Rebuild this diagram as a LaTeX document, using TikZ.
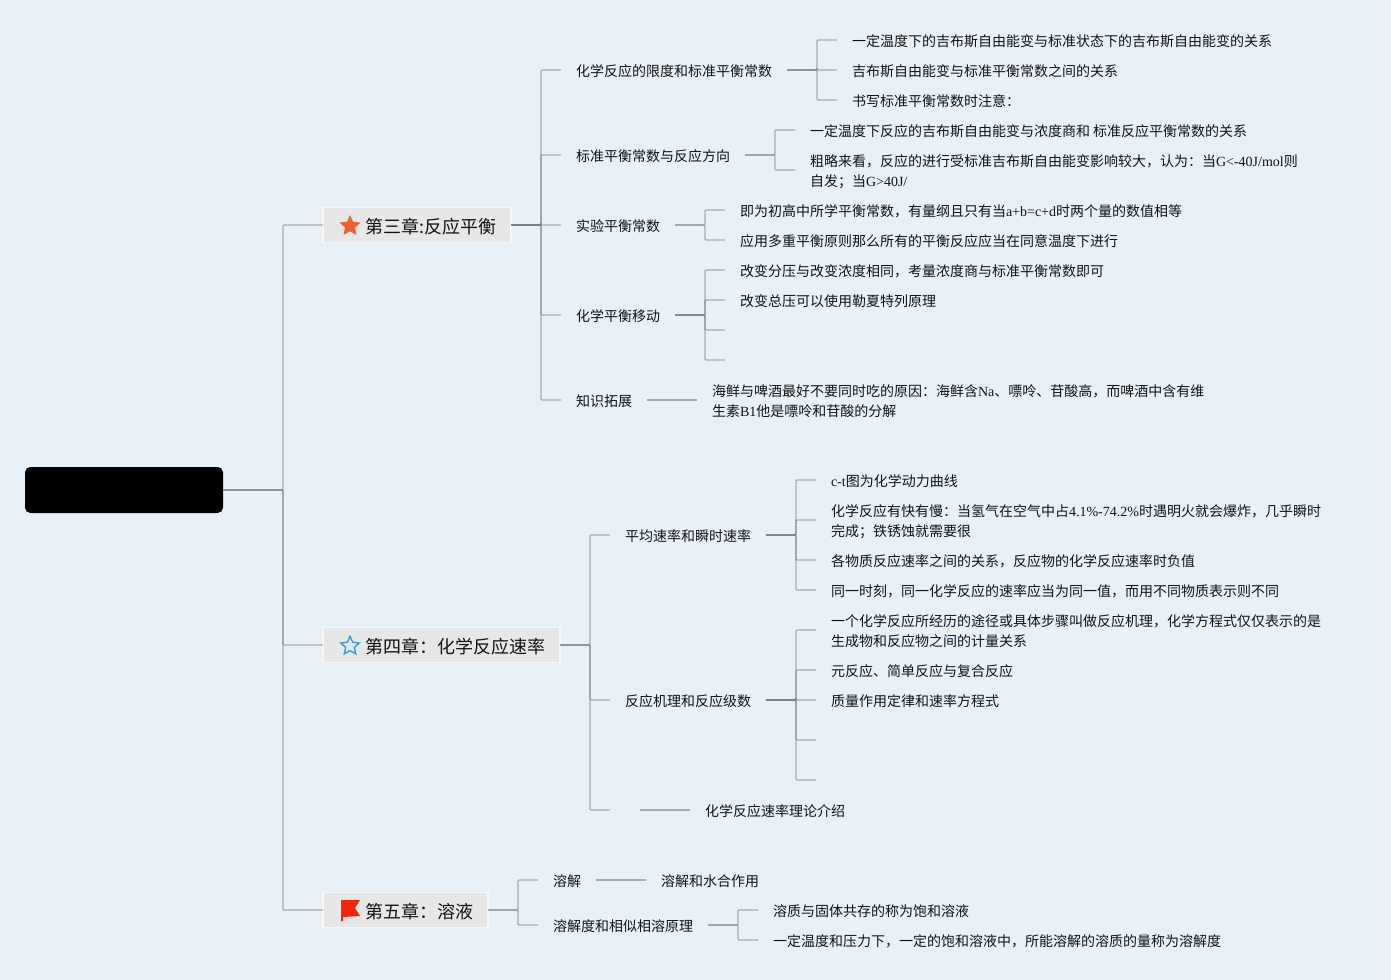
\documentclass[tikz,border=0pt]{standalone}
\usepackage{fontspec}
\setmainfont{Noto Sans CJK SC}
\newfontfamily\latinfont{Liberation Serif}
\newcommand{\lat}[1]{{\latinfont #1}}
\usepackage{xcolor}
\usepackage{tikz}
\usetikzlibrary{shapes.geometric}
\definecolor{pagebg}{HTML}{E9F1F8}
\definecolor{boxgray}{HTML}{E7E7E7}
\definecolor{linkgray}{HTML}{6F7673}
\definecolor{starorange}{HTML}{E8632F}
\definecolor{starblue}{HTML}{3A9FD9}
\definecolor{flagred}{HTML}{F0260F}
\tikzset{
  topic/.style={anchor=west, inner xsep=11.25pt, inner ysep=0pt, outer sep=0pt, align=left, text=black!93,
    font=\fontsize{10.5pt}{15pt}\selectfont, text height=10.2pt, text depth=0pt},
  twolines/.style={text height=25.2pt, text depth=0pt},
  chapter/.style={anchor=west, fill=boxgray, draw=white!60!pagebg, line width=1.1pt, inner xsep=11.25pt,
    inner ysep=0pt, outer sep=0pt, minimum height=26pt, text=black!93, font=\fontsize{13.5pt}{16pt}\selectfont,
    text height=12.5pt, text depth=0pt},
  link/.style={draw=linkgray, opacity=0.55, line width=1.1pt, rounded corners=0.8pt},
  staricon/.style={star, star points=5, star point ratio=2.1, minimum size=16.5pt, inner sep=0pt}
}
\begin{document}
\begin{tikzpicture}[x=0.75pt, y=-0.75pt]
  \fill[pagebg] (0,0) rectangle (1391,980);
  \useasboundingbox (0,0) rectangle (1391,980);

  \node[fill=black, rounded corners=4pt, minimum width=148.5pt, minimum height=34.5pt, inner sep=0pt, outer sep=0pt, anchor=west] (root) at (25,490) {};

  % chapters
  \node[chapter] (chA) at (323,225) {\hspace*{20.25pt}第三章:反应平衡};
  \node[chapter] (chB) at (323,645) {\hspace*{20.25pt}第四章：化学反应速率};
  \node[chapter] (chC) at (323,910) {\hspace*{20.25pt}第五章：溶液};

  \node[staricon, fill=starorange] (iconA) at (350,226) {};
  \node[staricon, draw=starblue, line width=1.1pt, minimum size=14.5pt] (iconB) at (350,646) {};
  \fill[flagred] (341,900) -- (360,900) -- (355,908) -- (360,916) -- (343,917) -- (343,921) -- (341,921) -- cycle;

  % chapter 3
  \node[topic] (aA) at (561,70) {化学反应的限度和标准平衡常数};
  \node[topic] (aB) at (561,155) {标准平衡常数与反应方向};
  \node[topic] (aC) at (561,225) {实验平衡常数};
  \node[topic] (aD) at (561,315) {化学平衡移动};
  \node[topic] (aE) at (561,400) {知识拓展};

  \node[topic] (aAa) at (837,40) {一定温度下的吉布斯自由能变与标准状态下的吉布斯自由能变的关系};
  \node[topic] (aAb) at (837,70) {吉布斯自由能变与标准平衡常数之间的关系};
  \node[topic] (aAc) at (837,100) {书写标准平衡常数时注意：};
  \node[topic] (aBa) at (795,130) {一定温度下反应的吉布斯自由能变与浓度商和 标准反应平衡常数的关系};
  \node[topic, twolines] (aBb) at (795,170) {粗略来看，反应的进行受标准吉布斯自由能变影响较大，认为：当\lat{G<-40J/mol}则\\自发；当\lat{G>40J/}};
  \node[topic] (aCa) at (725,210) {即为初高中所学平衡常数，有量纲且只有当\lat{a+b=c+d}时两个量的数值相等};
  \node[topic] (aCb) at (725,240) {应用多重平衡原则那么所有的平衡反应应当在同意温度下进行};
  \node[topic] (aDa) at (725,270) {改变分压与改变浓度相同，考量浓度商与标准平衡常数即可};
  \node[topic] (aDb) at (725,300) {改变总压可以使用勒夏特列原理};
  \coordinate (aDc) at (725,330);
  \coordinate (aDd) at (725,360);
  \node[topic, twolines] (aEa) at (697,400) {海鲜与啤酒最好不要同时吃的原因：海鲜含\lat{Na}、嘌呤、苷酸高，而啤酒中含有维\\生素\lat{B1}他是嘌呤和苷酸的分解};

  % chapter 4
  \node[topic] (bA) at (610,535) {平均速率和瞬时速率};
  \node[topic] (bB) at (610,700) {反应机理和反应级数};
  \coordinate (bCin) at (610,810);
  \coordinate (bCout) at (640,810);

  \node[topic] (bAa) at (816,480) {\lat{c-t}图为化学动力曲线};
  \node[topic, twolines] (bAb) at (816,520) {化学反应有快有慢：当氢气在空气中占\lat{4.1\%-74.2\%}时遇明火就会爆炸，几乎瞬时\\完成；铁锈蚀就需要很};
  \node[topic] (bAc) at (816,560) {各物质反应速率之间的关系，反应物的化学反应速率时负值};
  \node[topic] (bAd) at (816,590) {同一时刻，同一化学反应的速率应当为同一值，而用不同物质表示则不同};
  \node[topic, twolines] (bBa) at (816,630) {一个化学反应所经历的途径或具体步骤叫做反应机理，化学方程式仅仅表示的是\\生成物和反应物之间的计量关系};
  \node[topic] (bBb) at (816,670) {元反应、简单反应与复合反应};
  \node[topic] (bBc) at (816,700) {质量作用定律和速率方程式};
  \coordinate (bBd) at (816,740);
  \coordinate (bBe) at (816,780);
  \node[topic] (bCa) at (690,810) {化学反应速率理论介绍};

  % chapter 5
  \node[topic] (cA) at (538,880) {溶解};
  \node[topic] (cB) at (538,925) {溶解度和相似相溶原理};
  \node[topic] (cAa) at (646,880) {溶解和水合作用};
  \node[topic] (cBa) at (758,910) {溶质与固体共存的称为饱和溶液};
  \node[topic] (cBb) at (758,940) {一定温度和压力下，一定的饱和溶液中，所能溶解的溶质的量称为溶解度};

  % connectors
  \foreach \kid in {chA,chB,chC}{
    \draw[link] (root.east) -- ++(60,0) |- (\kid.west);
  }
  \foreach \top/\kid in {chA/aA,chA/aB,chA/aC,chA/aD,chA/aE,chB/bA,chB/bB,chC/cA,chC/cB,
      aA/aAa,aA/aAb,aA/aAc,aB/aBa,aB/aBb,aC/aCa,aC/aCb,aD/aDa,aD/aDb,
      bA/bAa,bA/bAb,bA/bAc,bA/bAd,bB/bBa,bB/bBb,bB/bBc,cB/cBa,cB/cBb}{
    \draw[link] (\top.east) -- ++(30,0) |- (\kid.west);
  }
  \foreach \top/\kid in {aD/aDc,aD/aDd,bB/bBd,bB/bBe,chB/bCin}{
    \draw[link] (\top.east) -- ++(30,0) |- (\kid);
  }
  \draw[link] (aE.east) -- (aEa.west);
  \draw[link] (bCout) -- (bCa.west);
  \draw[link] (cA.east) -- (cAa.west);
\end{tikzpicture}
\end{document}
